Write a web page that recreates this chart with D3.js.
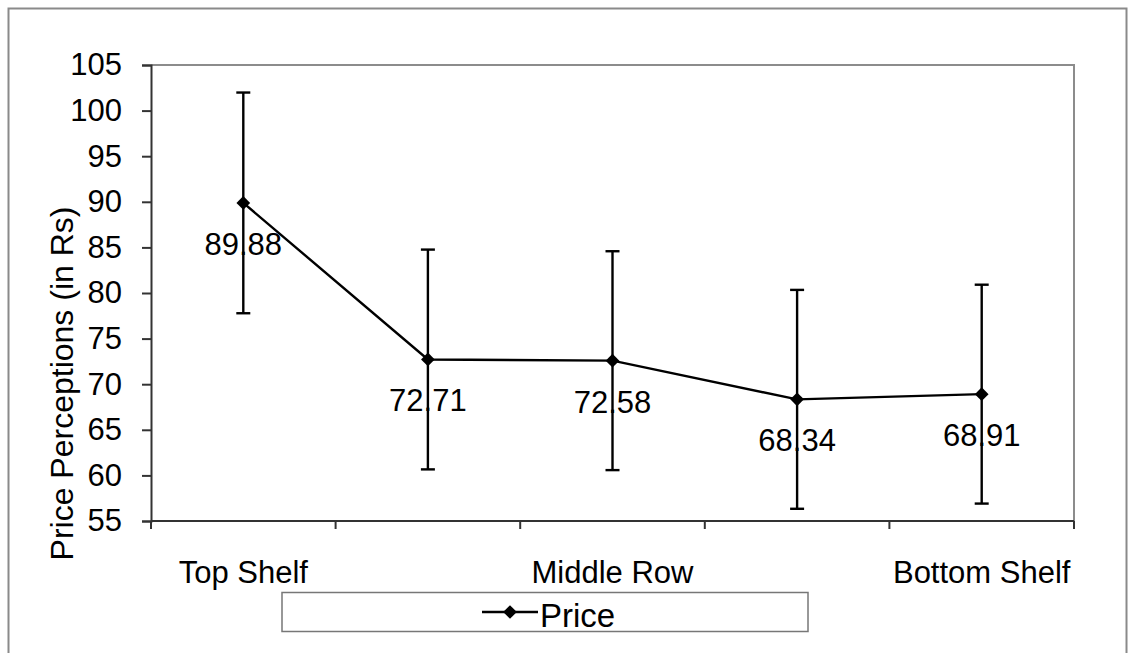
<!DOCTYPE html>
<html>
<head>
<meta charset="utf-8">
<script src="https://cdn.jsdelivr.net/npm/d3@7"></script>
<style>
  html, body { margin: 0; padding: 0; background: #fff; }
  svg text { font-family: "Liberation Sans", Arial, Helvetica, sans-serif; fill: #000; }
</style>
</head>
<body>
<svg id="chart" width="1130" height="653"></svg>
<script>
// ---- data ----
const categories = ["Top Shelf", "Row 2", "Middle Row", "Row 4", "Bottom Shelf"];
const tickLabels = ["Top Shelf", "", "Middle Row", "", "Bottom Shelf"];
const priceValues = [89.88, 72.71, 72.58, 68.34, 68.91];
const errorPlus = [12.1, 12.05, 12.0, 12.0, 12.0];
const errorMinus = [12.1, 12.05, 12.0, 12.0, 12.0];
const yTicks = [55, 60, 65, 70, 75, 80, 85, 90, 95, 100, 105];
const seriesName = "Price";
const yTitle = "Price Perceptions (in Rs)";

const svg = d3.select("#chart");

// outer chart border
svg.append("rect")
  .attr("x", 8.5).attr("y", 8.5).attr("width", 1118).attr("height", 660)
  .attr("fill", "#fff").attr("stroke", "#8a8a8a").attr("stroke-width", 2);

const plot = { left: 151, right: 1074, top: 65, bottom: 521 };

const x = d3.scaleBand().domain(categories).range([plot.left, plot.right]).padding(0);
const y = d3.scaleLinear().domain([55, 105]).range([plot.bottom, plot.top]);

// plot area frame (top and right in gray)
svg.append("path")
  .attr("d", `M${plot.left},${plot.top}H${plot.right}V${plot.bottom}`)
  .attr("fill", "none").attr("stroke", "#8c8c8c").attr("stroke-width", 2);

// y axis
const yAxis = d3.axisLeft(y).tickValues(yTicks).tickSize(9).tickPadding(20).tickFormat(d3.format("d"));
const gy = svg.append("g").attr("transform", `translate(${plot.left},0)`).call(yAxis);
gy.select(".domain").attr("stroke", "#333").attr("stroke-width", 2);
gy.selectAll(".tick line").attr("stroke", "#333").attr("stroke-width", 2);
gy.selectAll(".tick text").attr("font-size", 31).attr("fill", "#000")
  .style("font-family", '"Liberation Sans", Arial, sans-serif');

// x axis: ticks at band boundaries
const boundaries = categories.map(c => x(c)).concat([plot.right]);
svg.append("line")
  .attr("x1", plot.left).attr("x2", plot.right).attr("y1", plot.bottom).attr("y2", plot.bottom)
  .attr("stroke", "#333").attr("stroke-width", 2);
svg.append("g").selectAll("line").data(boundaries).join("line")
  .attr("x1", d => d).attr("x2", d => d)
  .attr("y1", plot.bottom).attr("y2", plot.bottom + 8)
  .attr("stroke", "#333").attr("stroke-width", 2);
svg.append("g").selectAll("text").data(categories).join("text")
  .attr("x", d => x(d) + x.bandwidth() / 2)
  .attr("y", 583)
  .attr("text-anchor", "middle")
  .attr("font-size", 31)
  .text((d, i) => tickLabels[i]);

// y title
svg.append("text")
  .attr("transform", `translate(73,${(207 + 560) / 2}) rotate(-90)`)
  .attr("text-anchor", "middle")
  .attr("font-size", 32)
  .text(yTitle);

const data = categories.map((c, i) => ({
  c, v: priceValues[i], hi: priceValues[i] + errorPlus[i], lo: priceValues[i] - errorMinus[i]
}));
const cx = d => x(d.c) + x.bandwidth() / 2;

// error bars
const eb = svg.append("g").attr("stroke", "#000").attr("stroke-width", 2.4);
eb.selectAll("line.v").data(data).join("line").attr("class", "v")
  .attr("x1", cx).attr("x2", cx).attr("y1", d => y(d.hi)).attr("y2", d => y(d.lo));
eb.selectAll("line.t").data(data).join("line").attr("class", "t")
  .attr("x1", d => cx(d) - 7).attr("x2", d => cx(d) + 7).attr("y1", d => y(d.hi)).attr("y2", d => y(d.hi));
eb.selectAll("line.b").data(data).join("line").attr("class", "b")
  .attr("x1", d => cx(d) - 7).attr("x2", d => cx(d) + 7).attr("y1", d => y(d.lo)).attr("y2", d => y(d.lo));

// line
svg.append("path").datum(data)
  .attr("d", d3.line().x(cx).y(d => y(d.v)))
  .attr("fill", "none").attr("stroke", "#000").attr("stroke-width", 2.4);

// markers
const diamond = d3.symbol().type(d3.symbolDiamond2).size(120);
svg.append("g").selectAll("path").data(data).join("path")
  .attr("transform", d => `translate(${cx(d)},${y(d.v)})`)
  .attr("d", diamond).attr("fill", "#000");

// data labels
svg.append("g").selectAll("text").data(data).join("text")
  .attr("x", cx).attr("y", d => y(d.v) + 41)
  .attr("dy", "0.35em")
  .attr("text-anchor", "middle")
  .attr("font-size", 31)
  .text(d => d.v.toFixed(2));

// legend
const lg = svg.append("g");
lg.append("rect").attr("x", 282).attr("y", 592.5).attr("width", 526).attr("height", 39)
  .attr("fill", "#fff").attr("stroke", "#777").attr("stroke-width", 1.5);
lg.append("line").attr("x1", 482).attr("x2", 538).attr("y1", 612).attr("y2", 612)
  .attr("stroke", "#000").attr("stroke-width", 2.4);
lg.append("path").attr("transform", "translate(510,612)").attr("d", diamond).attr("fill", "#000");
lg.append("text").attr("x", 540).attr("y", 615).attr("dy", "0.35em")
  .attr("font-size", 33).text(seriesName);
</script>
</body>
</html>
